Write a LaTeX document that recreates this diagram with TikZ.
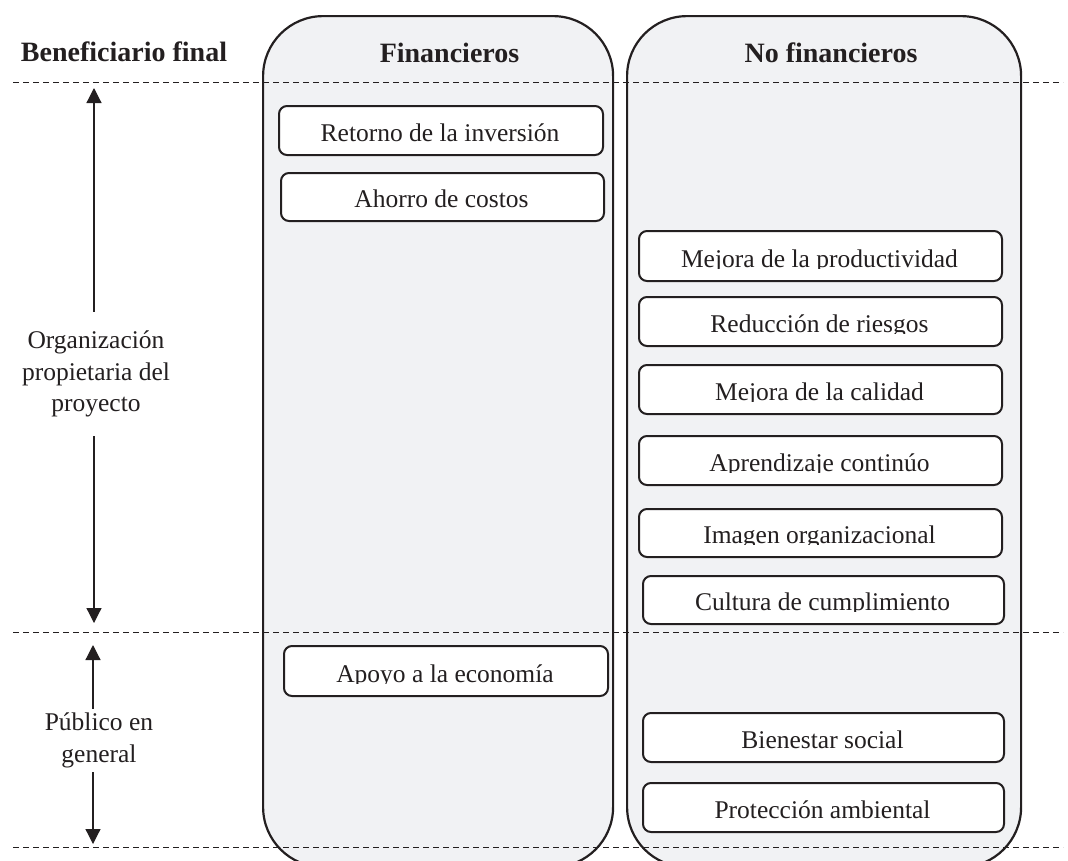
\documentclass[tikz,border=0pt]{standalone}
\usepackage{fontspec}
\setmainfont{Liberation Serif}
\usetikzlibrary{arrows.meta}
\definecolor{ink}{HTML}{231F20}
\definecolor{colfill}{HTML}{F1F2F4}
\tikzset{
  colbox/.style={draw=ink, line width=2.2pt, fill=colfill, rounded corners=60pt, inner sep=0pt, anchor=north west},
  bx/.style={draw=ink, line width=2pt, fill=white, rounded corners=8pt, inner sep=0pt, anchor=north west},
  txt/.style={text=ink, font=\fontsize{25.5}{31.5}\selectfont, inner sep=0pt},
  head/.style={text=ink, font=\fontsize{28}{34}\selectfont\bfseries, inner sep=0pt, anchor=base},
  sepline/.style={draw=ink, line width=0.9pt, dash pattern=on 6pt off 4pt},
  arr/.style={draw=ink, line width=1.2pt, {Triangle[length=15pt,width=15pt]}-{Triangle[length=15pt,width=15pt]}},
  lab/.style={txt, align=center, fill=white, inner xsep=1pt}
}
% #1 name, #2 left, #3 top, #4 right, #5 bottom, #6 text
\newcommand{\benefbox}[6]{%
  \node[bx, minimum width={#4-#2-2}, minimum height={#5-#3-2}] (#1) at ({#2+1},{#3+1}) {};
  \begin{scope}
    \clip (#2,#3) rectangle (#4,{#5-13});
    \node[txt, anchor=base] (#1t) at ({(#2+#4)/2},{#5-13.5}) {#6};
  \end{scope}}
\begin{document}
\begin{tikzpicture}[x=1pt,y=-1pt]
  \useasboundingbox (0,0) rectangle (1068,860);
  \clip (0,0) rectangle (1068,860);
  % columns
  \node[colbox, minimum width=350, minimum height=851] (fin) at (262,15) {};
  \node[colbox, minimum width=394, minimum height=851] (nofin) at (626,15) {};
  % headers
  \node[head] (hben) at (124,61) {Beneficiario final};
  \node[head] (hfin) at (449.5,62) {Financieros};
  \node[head] (hnofin) at (831,62) {No financieros};
  % separators
  \coordinate (s1a) at (13,82.5);  \coordinate (s1b) at (1063,82.5);
  \coordinate (s2a) at (13,632);   \coordinate (s2b) at (1063,632);
  \coordinate (s3a) at (13,847);   \coordinate (s3b) at (1063,847);
  \draw[sepline] (s1a) -- (s1b);
  \draw[sepline] (s2a) -- (s2b);
  \draw[sepline] (s3a) -- (s3b);
  % financial boxes
  \benefbox{ret}{277}{104}{603}{155}{Retorno de la inversión}
  \benefbox{aho}{279}{171}{604}{221}{Ahorro de costos}
  \benefbox{apo}{282}{644}{608}{696}{Apoyo a la economía}
  % non financial boxes
  \benefbox{prod}{637}{229}{1002}{281}{Mejora de la productividad}
  \benefbox{ries}{637}{295}{1002}{346}{Reducción de riesgos}
  \benefbox{cal}{637}{363}{1002}{414}{Mejora de la calidad}
  \benefbox{apr}{637}{434}{1002}{485}{Aprendizaje continúo}
  \benefbox{ima}{637}{507}{1002}{557}{Imagen organizacional}
  \benefbox{cul}{641}{574}{1004}{624}{Cultura de cumplimiento}
  \benefbox{bie}{641}{711}{1004}{762}{Bienestar social}
  \benefbox{pro}{641}{781}{1004}{832}{Protección ambiental}
  % beneficiary arrows
  \coordinate (t1) at (94,88);  \coordinate (b1) at (94,623);
  \coordinate (t2) at (93,645); \coordinate (b2) at (93,844);
  \draw[arr] (t1) -- (b1);
  \draw[arr] (t2) -- (b2);
  \node[lab, inner ysep=19pt] (org) at (96,374) {Organización\\propietaria del\\proyecto};
  \node[lab, inner ysep=4pt] (pub) at (99,740.5) {Público en\\general};
\end{tikzpicture}
\end{document}
